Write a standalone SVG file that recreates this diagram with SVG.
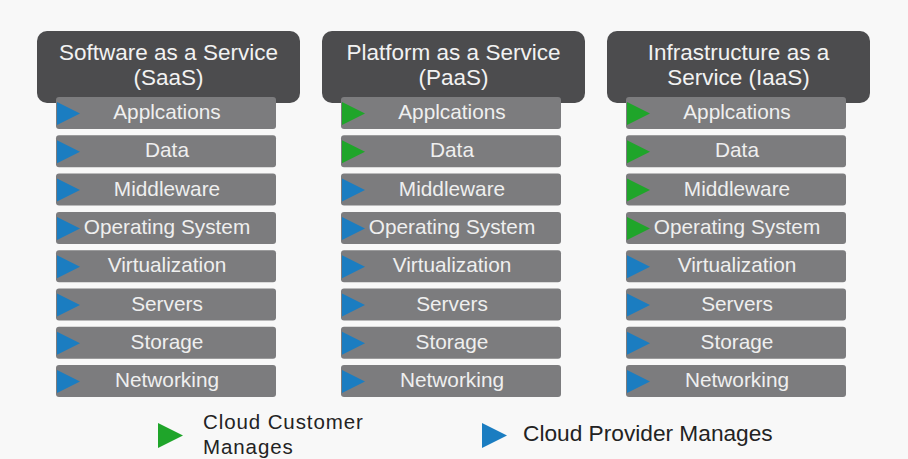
<svg xmlns="http://www.w3.org/2000/svg" xmlns:xlink="http://www.w3.org/1999/xlink" width="908" height="459" viewBox="0 0 908 459">
<style>
.bg{fill:#f8f8f8}
.hdr{fill:#4c4c4e}
.row{fill:#7c7c7e}
.ht{font-family:"Liberation Sans",Arial,sans-serif;font-size:22.5px;fill:#f2f2f2;text-anchor:middle}
.rt{font-family:"Liberation Sans",Arial,sans-serif;font-size:20.8px;fill:#efefef;text-anchor:middle}
.lt{font-family:"Liberation Sans",Arial,sans-serif;font-size:22.7px;fill:#232323}
.lt2{font-family:"Liberation Sans",Arial,sans-serif;font-size:20.5px;fill:#232323;letter-spacing:0.9px}
.cust{fill:#1fa52a}
.prov{fill:#1b7dc1}
</style>
<defs>
<path id="tri" d="M0,0 L23,11.5 L0,23 Z"/>
<path id="ltri" d="M0,0 L25,12.5 L0,25 Z"/>
</defs>
<rect class="bg" x="0" y="0" width="908" height="459"/>

<g id="saas">
<rect class="hdr" x="37" y="31" width="263" height="72" rx="10"/>
<text class="ht" x="168.5" y="60">Software as a Service</text>
<text class="ht" x="168.5" y="85">(SaaS)</text>
</g>
<g id="paas">
<rect class="hdr" x="322" y="31" width="263" height="72" rx="10"/>
<text class="ht" x="453.5" y="60">Platform as a Service</text>
<text class="ht" x="453.5" y="85">(PaaS)</text>
</g>
<g id="iaas">
<rect class="hdr" x="607" y="31" width="263" height="72" rx="10"/>
<text class="ht" x="738.5" y="60">Infrastructure as a</text>
<text class="ht" x="738.5" y="85">Service (IaaS)</text>
</g>

<g id="saas-applications"><rect class="row" x="56" y="97" width="220" height="32" rx="3"/><use href="#tri" class="prov" x="57" y="102"/><text class="rt" x="167" y="119">Applcations</text></g>
<g id="saas-data"><rect class="row" x="56" y="135.3" width="220" height="32" rx="3"/><use href="#tri" class="prov" x="57" y="140.3"/><text class="rt" x="167" y="157.3">Data</text></g>
<g id="saas-middleware"><rect class="row" x="56" y="173.6" width="220" height="32" rx="3"/><use href="#tri" class="prov" x="57" y="178.6"/><text class="rt" x="167" y="195.6">Middleware</text></g>
<g id="saas-os"><rect class="row" x="56" y="211.9" width="220" height="32" rx="3"/><use href="#tri" class="prov" x="57" y="216.9"/><text class="rt" x="167" y="233.9">Operating System</text></g>
<g id="saas-virtualization"><rect class="row" x="56" y="250.2" width="220" height="32" rx="3"/><use href="#tri" class="prov" x="57" y="255.2"/><text class="rt" x="167" y="272.2">Virtualization</text></g>
<g id="saas-servers"><rect class="row" x="56" y="288.5" width="220" height="32" rx="3"/><use href="#tri" class="prov" x="57" y="293.5"/><text class="rt" x="167" y="310.5">Servers</text></g>
<g id="saas-storage"><rect class="row" x="56" y="326.8" width="220" height="32" rx="3"/><use href="#tri" class="prov" x="57" y="331.8"/><text class="rt" x="167" y="348.8">Storage</text></g>
<g id="saas-networking"><rect class="row" x="56" y="365.1" width="220" height="32" rx="3"/><use href="#tri" class="prov" x="57" y="370.1"/><text class="rt" x="167" y="387.1">Networking</text></g>

<g id="paas-applications"><rect class="row" x="341" y="97" width="220" height="32" rx="3"/><use href="#tri" class="cust" x="342" y="102"/><text class="rt" x="452" y="119">Applcations</text></g>
<g id="paas-data"><rect class="row" x="341" y="135.3" width="220" height="32" rx="3"/><use href="#tri" class="cust" x="342" y="140.3"/><text class="rt" x="452" y="157.3">Data</text></g>
<g id="paas-middleware"><rect class="row" x="341" y="173.6" width="220" height="32" rx="3"/><use href="#tri" class="prov" x="342" y="178.6"/><text class="rt" x="452" y="195.6">Middleware</text></g>
<g id="paas-os"><rect class="row" x="341" y="211.9" width="220" height="32" rx="3"/><use href="#tri" class="prov" x="342" y="216.9"/><text class="rt" x="452" y="233.9">Operating System</text></g>
<g id="paas-virtualization"><rect class="row" x="341" y="250.2" width="220" height="32" rx="3"/><use href="#tri" class="prov" x="342" y="255.2"/><text class="rt" x="452" y="272.2">Virtualization</text></g>
<g id="paas-servers"><rect class="row" x="341" y="288.5" width="220" height="32" rx="3"/><use href="#tri" class="prov" x="342" y="293.5"/><text class="rt" x="452" y="310.5">Servers</text></g>
<g id="paas-storage"><rect class="row" x="341" y="326.8" width="220" height="32" rx="3"/><use href="#tri" class="prov" x="342" y="331.8"/><text class="rt" x="452" y="348.8">Storage</text></g>
<g id="paas-networking"><rect class="row" x="341" y="365.1" width="220" height="32" rx="3"/><use href="#tri" class="prov" x="342" y="370.1"/><text class="rt" x="452" y="387.1">Networking</text></g>

<g id="iaas-applications"><rect class="row" x="626" y="97" width="220" height="32" rx="3"/><use href="#tri" class="cust" x="627" y="102"/><text class="rt" x="737" y="119">Applcations</text></g>
<g id="iaas-data"><rect class="row" x="626" y="135.3" width="220" height="32" rx="3"/><use href="#tri" class="cust" x="627" y="140.3"/><text class="rt" x="737" y="157.3">Data</text></g>
<g id="iaas-middleware"><rect class="row" x="626" y="173.6" width="220" height="32" rx="3"/><use href="#tri" class="cust" x="627" y="178.6"/><text class="rt" x="737" y="195.6">Middleware</text></g>
<g id="iaas-os"><rect class="row" x="626" y="211.9" width="220" height="32" rx="3"/><use href="#tri" class="cust" x="627" y="216.9"/><text class="rt" x="737" y="233.9">Operating System</text></g>
<g id="iaas-virtualization"><rect class="row" x="626" y="250.2" width="220" height="32" rx="3"/><use href="#tri" class="prov" x="627" y="255.2"/><text class="rt" x="737" y="272.2">Virtualization</text></g>
<g id="iaas-servers"><rect class="row" x="626" y="288.5" width="220" height="32" rx="3"/><use href="#tri" class="prov" x="627" y="293.5"/><text class="rt" x="737" y="310.5">Servers</text></g>
<g id="iaas-storage"><rect class="row" x="626" y="326.8" width="220" height="32" rx="3"/><use href="#tri" class="prov" x="627" y="331.8"/><text class="rt" x="737" y="348.8">Storage</text></g>
<g id="iaas-networking"><rect class="row" x="626" y="365.1" width="220" height="32" rx="3"/><use href="#tri" class="prov" x="627" y="370.1"/><text class="rt" x="737" y="387.1">Networking</text></g>

<g id="connectors"></g>

<g id="legend-customer">
<use href="#ltri" class="cust" x="158" y="423"/>
<text class="lt2" x="203" y="429">Cloud Customer</text>
<text class="lt2" x="203" y="454">Manages</text>
</g>
<g id="legend-provider">
<use href="#ltri" class="prov" x="482" y="423"/>
<text class="lt" x="523" y="441">Cloud Provider Manages</text>
</g>
</svg>
